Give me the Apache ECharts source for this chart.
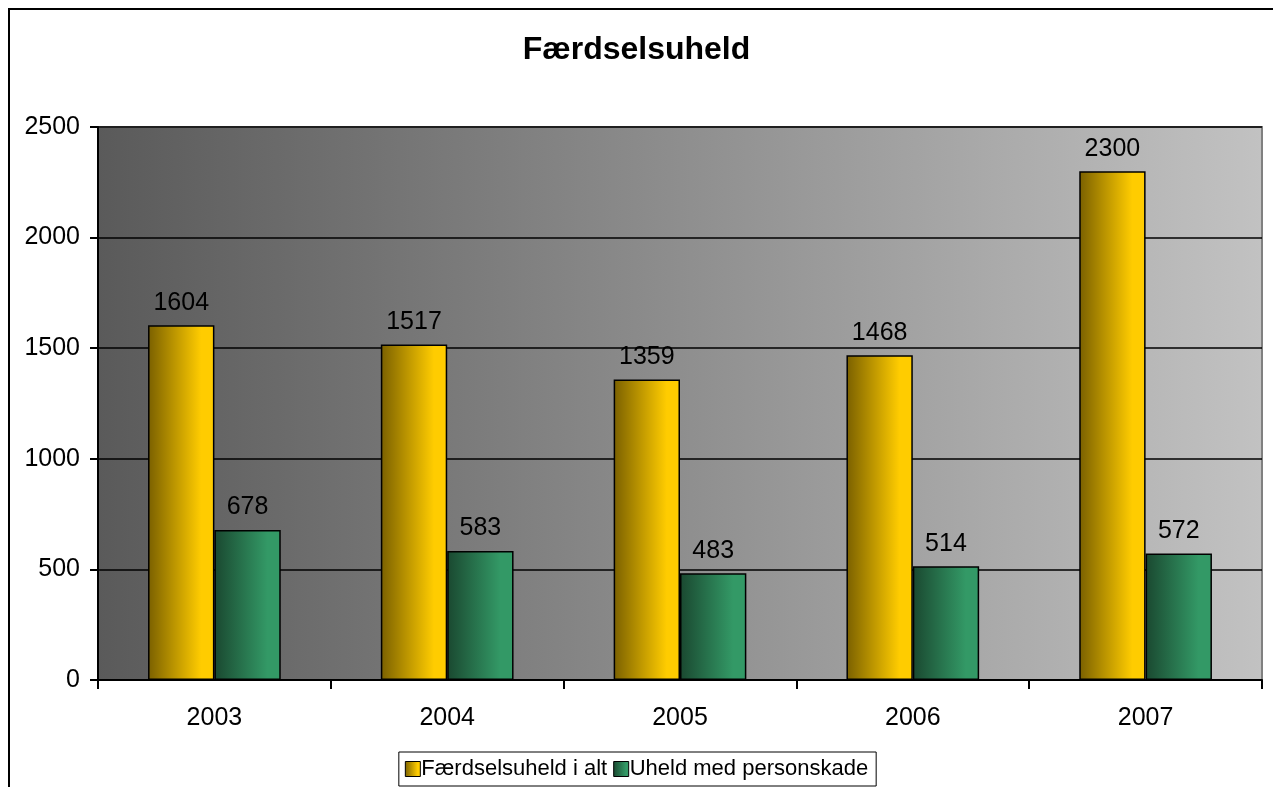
<!DOCTYPE html>
<html>
<head>
<meta charset="utf-8">
<title>Færdselsuheld</title>
<script src="https://cdn.jsdelivr.net/npm/echarts@6/dist/echarts.min.js"></script>
<style>
  html, body { margin: 0; padding: 0; background: #fff; }
  #chart { width: 1273px; height: 787px; }
</style>
</head>
<body>
<div id="chart"></div>
<script>
// chart data
var years = ['2003', '2004', '2005', '2006', '2007']
var uheldIAlt = [1604, 1517, 1359, 1468, 2300]
var personskade = [678, 583, 483, 514, 572]
var seriesNames = ['Færdselsuheld i alt', 'Uheld med personskade']

var myChart = echarts.init(document.getElementById('chart'))

function hGrad (dark, light) {
  return new echarts.graphic.LinearGradient(0, 0, 1, 0, [
    { offset: 0, color: dark },
    { offset: 0.8, color: light },
    { offset: 1, color: light }
  ])
}

var font = 'Liberation Sans, Arial, sans-serif'

var option = {
  animation: false,
  textStyle: { fontFamily: font },
  title: {
    text: 'Færdselsuheld',
    left: 'center',
    top: 34,
    padding: 0,
    textStyle: { fontSize: 32, fontWeight: 'bold', color: '#000', fontFamily: font }
  },
  graphic: [{
    type: 'rect',
    shape: { x: 9, y: 9, width: 1300, height: 820 },
    style: { fill: null, stroke: '#000', lineWidth: 2 },
    z: -1,
    silent: true
  }],
  legend: {
    bottom: 1,
    left: 'center',
    icon: 'rect',
    itemWidth: 15,
    itemHeight: 15,
    itemGap: 6,
    padding: [6, 8, 6, 6],
    borderColor: '#000',
    borderWidth: 1,
    backgroundColor: '#fff',
    textStyle: { fontSize: 22, color: '#000', padding: [0, 0, 0, -4] },
    data: [
      { name: seriesNames[0], itemStyle: { borderColor: '#000', borderWidth: 1 } },
      { name: seriesNames[1], itemStyle: { borderColor: '#000', borderWidth: 1 } }
    ]
  },
  grid: {
    left: 98,
    right: 11,
    top: 127,
    bottom: 107,
    show: true,
    borderColor: '#808080',
    borderWidth: 2,
    backgroundColor: new echarts.graphic.LinearGradient(0, 0, 1, 0, [
      { offset: 0, color: '#5a5a5a' },
      { offset: 1, color: '#c2c2c2' }
    ])
  },
  xAxis: {
    type: 'category',
    data: years,
    axisLine: { lineStyle: { color: '#000', width: 2 } },
    axisTick: { show: true, length: 9, lineStyle: { color: '#000', width: 2 } },
    axisLabel: { fontSize: 25, color: '#000', margin: 26 }
  },
  yAxis: {
    type: 'value',
    min: 0,
    max: 2500,
    interval: 500,
    axisLine: { show: true, lineStyle: { color: '#000', width: 2 } },
    axisTick: { show: true, length: 8, lineStyle: { color: '#000', width: 2 } },
    axisLabel: {
      fontSize: 25,
      color: '#000',
      margin: 18,
      formatter: function (value) {
        return String(value)
      }
    },
    splitLine: { lineStyle: { color: '#000', width: 1.5 } }
  },
  series: [{
    name: seriesNames[0],
    type: 'bar',
    data: uheldIAlt,
    barGap: '0%',
    barCategoryGap: '43%',
    itemStyle: { color: hGrad('#7a6000', '#ffcc00'), borderColor: '#000', borderWidth: 1.5 },
    label: { show: true, position: 'top', distance: 10, fontSize: 25, color: '#000' }
  }, {
    name: seriesNames[1],
    type: 'bar',
    data: personskade,
    itemStyle: { color: hGrad('#1a4830', '#339966'), borderColor: '#000', borderWidth: 1.5 },
    label: { show: true, position: 'top', distance: 10, fontSize: 25, color: '#000' }
  }]
}

myChart.setOption(option)
</script>
</body>
</html>
